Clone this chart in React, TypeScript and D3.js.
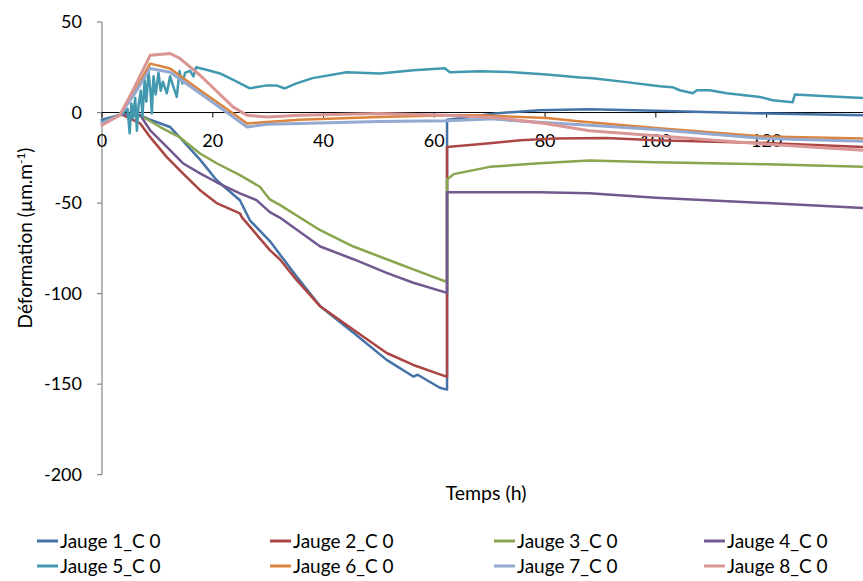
import React from "react";
import * as d3 from "d3";

type P = [number, number];

const xTicks = [0, 20, 40, 60, 80, 100, 120];
const yTicks = [50, 0, -50, -100, -150, -200];

const seriesNames = [
  "Jauge 1_C 0", "Jauge 2_C 0", "Jauge 3_C 0", "Jauge 4_C 0",
  "Jauge 5_C 0", "Jauge 6_C 0", "Jauge 7_C 0", "Jauge 8_C 0",
];
const seriesColors = [
  "#4572A7", "#AA4643", "#89A54E", "#71588F",
  "#4198AF", "#DB843D", "#93A9CF", "#D99694",
];

const jauge1: P[] = [[0,-4],[3.5,-1],[6.9,-1.5],[8.7,-4],[12.3,-8],[14,-13.6],[17.7,-26],[20.7,-37.4],[24.9,-48.4],[26.7,-59.5],[30.3,-71],[35,-90],[39.4,-107],[45.4,-121.6],[51.4,-136.6],[56.2,-145.8],[57,-144.8],[58,-146.6],[61,-152],[62.3,-153],[62.3,-4],[65,-3],[71,-0.5],[79,1.3],[88,1.8],[100,1],[120,-0.5],[137.5,-1.5]];
const jauge2: P[] = [[0,-5],[3.5,-1],[6.9,-6],[8.7,-13.6],[11.7,-24.6],[14.6,-33.6],[17.7,-42.9],[20.7,-50],[24.9,-55.7],[25.3,-58],[26.7,-63],[30.3,-76],[32.1,-81],[35,-92],[39.4,-107],[45.4,-120],[51.4,-132.8],[56.2,-139.4],[62.3,-146],[62.3,-19],[70,-17],[75.5,-15.3],[82,-14.3],[91,-14],[100,-15.3],[120,-16.8],[137.5,-19]];
const jauge3: P[] = [[0,-5],[3.5,-1],[6.9,-1.5],[10.5,-8],[14,-13.6],[17.7,-22.6],[20.7,-28],[24.9,-34.6],[28.5,-41],[30.3,-48],[32.1,-51],[39.4,-65],[45.4,-74],[51.4,-81],[57.4,-88],[62.3,-93.6],[62.3,-37],[63.5,-34],[70,-30],[79,-28],[88,-26.5],[100,-27.4],[120,-28.6],[137.5,-30]];
const jauge4: P[] = [[0,-5],[3.5,-1],[6.9,-1.5],[8.7,-9.8],[11.7,-19],[14.6,-28],[17.7,-33.6],[20.7,-38.5],[24.9,-44.6],[27.9,-48.4],[30.3,-55],[32.1,-58],[39.4,-74],[45.4,-81],[51.4,-88.5],[56.2,-94],[62.3,-99.6],[62.3,-44],[79,-44],[88,-44.6],[100,-47],[120,-50],[137.5,-52.8]];
const jauge5: P[] = [[0,-5],[3.5,-1],[4.6,2],[5,-11.5],[5.3,5],[5.6,-3],[6,8],[6.3,-10],[6.6,4],[7,12],[7.3,-2],[7.7,18],[8,6],[8.4,22],[8.7,14],[9,-0.5],[9.3,20],[9.7,10],[10.2,22],[10.6,12],[11,17],[11.7,10.6],[12.3,20],[12.8,15],[13.5,8.6],[14,23],[14.5,16],[15,22],[15.9,23],[16.5,20],[17,25],[19,23.5],[21.3,21.6],[23.7,18],[26.7,13.4],[29.8,15],[31.5,15],[33,13.3],[35,16],[38,19],[44.2,22.3],[50.2,21.6],[56.2,23.3],[61.9,24.4],[62.8,22.3],[68.2,22.8],[74.2,22.3],[80.3,21],[86.3,19.4],[88.6,19],[94.7,16.8],[100.7,14.5],[103,14],[104.3,12.3],[106.7,10.7],[107.4,12.3],[109.7,12.3],[112.8,10.6],[118.8,8.6],[121.1,6.8],[124.7,5.7],[125.1,10],[130.9,9],[137.5,8]];
const jauge6: P[] = [[0,-6],[3.2,-1.5],[5.6,10],[8.7,27],[12.3,24.3],[17.7,12.3],[23.7,-0.5],[26.2,-6],[29.8,-5.2],[35.7,-4],[50,-2.5],[62.3,-1.5],[68,-1.5],[80.3,-3],[86,-4.8],[100,-8.5],[120,-13.3],[137.5,-14.3]];
const jauge7: P[] = [[0,-6],[3.2,-1.5],[5.6,9],[8.7,24.3],[12.3,22.3],[17.7,10.6],[23.7,-2.5],[26.2,-8],[29.8,-6.5],[35.7,-6],[50,-5],[62.3,-4.6],[70,-3.5],[79,-5.4],[88,-7],[100,-9.3],[120,-14.4],[137.5,-15.8]];
const jauge8: P[] = [[0,-7],[3.2,-1.5],[5.6,12.3],[8.7,31.6],[12.3,32.6],[14,30],[17.7,20.6],[23.7,3],[26.2,-1.5],[29.8,-2.5],[35.7,-1.5],[50,-0.5],[62.3,-1.5],[71.8,-3],[80,-6],[88,-10],[100,-12.8],[120,-17.5],[137.5,-20.8]];

const allSeries = [jauge1, jauge2, jauge3, jauge4, jauge5, jauge6, jauge7, jauge8];

const W = 863, H = 581;
const FONT = "Lato, 'Open Sans', sans-serif";

export default function App() {
  const x = d3.scaleLinear().domain([0, 137.4]).range([102, 863]);
  const y = d3.scaleLinear().domain([-200, 50]).range([474.7, 22]);
  const line = d3.line<P>().x(d => x(d[0])).y(d => y(d[1]));

  const legendCols = [37, 270, 494, 704];
  const legendRows = [541, 566];

  return (
    <svg width={W} height={H} style={{ position: "absolute", left: 0, top: 0, background: "#fff" }}>
      <rect x={0} y={0} width={W} height={H} fill="#fff" />
      {/* y axis */}
      <line x1={x(0)} x2={x(0)} y1={y(50)} y2={y(-200)} stroke="#868686" strokeWidth={1.2} />
      {yTicks.map(t => (
        <g key={t}>
          <line x1={x(0) - 5} x2={x(0)} y1={y(t)} y2={y(t)} stroke="#868686" strokeWidth={1.2} />
          <text x={82} y={y(t)} dy="0.35em" textAnchor="end" fontFamily={FONT} fontSize={18} fill="#000">{t}</text>
        </g>
      ))}
      {/* x axis */}
      <line x1={x(0)} x2={W} y1={y(0)} y2={y(0)} stroke="#000" strokeWidth={1} />
      {xTicks.map(t => (
        <g key={t}>
          <line x1={x(t)} x2={x(t)} y1={y(0)} y2={y(0) + 5} stroke="#000" strokeWidth={1} />
          <text x={x(t)} y={141} dy="0.35em" textAnchor="middle" fontFamily={FONT} fontSize={18} fill="#000">{t}</text>
        </g>
      ))}
      {/* series */}
      <g>
        {allSeries.map((s, i) => (
          <path key={i} d={line(s) || ""} fill="none" stroke={seriesColors[i]}
            strokeWidth={i >= 6 ? 3 : 2.5} strokeLinejoin="round" strokeLinecap="round" />
        ))}
      </g>
      {/* axis titles */}
      <text x={486} y={493} dy="0.35em" textAnchor="middle" fontFamily={FONT} fontSize={19.5} fill="#000">Temps (h)</text>
      <text transform="translate(25,238) rotate(-90)" textAnchor="middle" dy="0.35em" fontFamily={FONT} fontSize={19} fill="#000">
        Déformation (µm.m<tspan dy="-7" fontSize={12}>-1</tspan><tspan dy="7">)</tspan>
      </text>
      {/* legend */}
      {seriesNames.map((n, i) => {
        const cx = legendCols[i % 4];
        const cy = legendRows[Math.floor(i / 4)];
        return (
          <g key={n}>
            <line x1={cx} x2={cx + 21} y1={cy} y2={cy} stroke={seriesColors[i]} strokeWidth={3} />
            <text x={cx + 23} y={cy} dy="0.35em" fontFamily={FONT} fontSize={19} fill="#000">{n}</text>
          </g>
        );
      })}
    </svg>
  );
}
